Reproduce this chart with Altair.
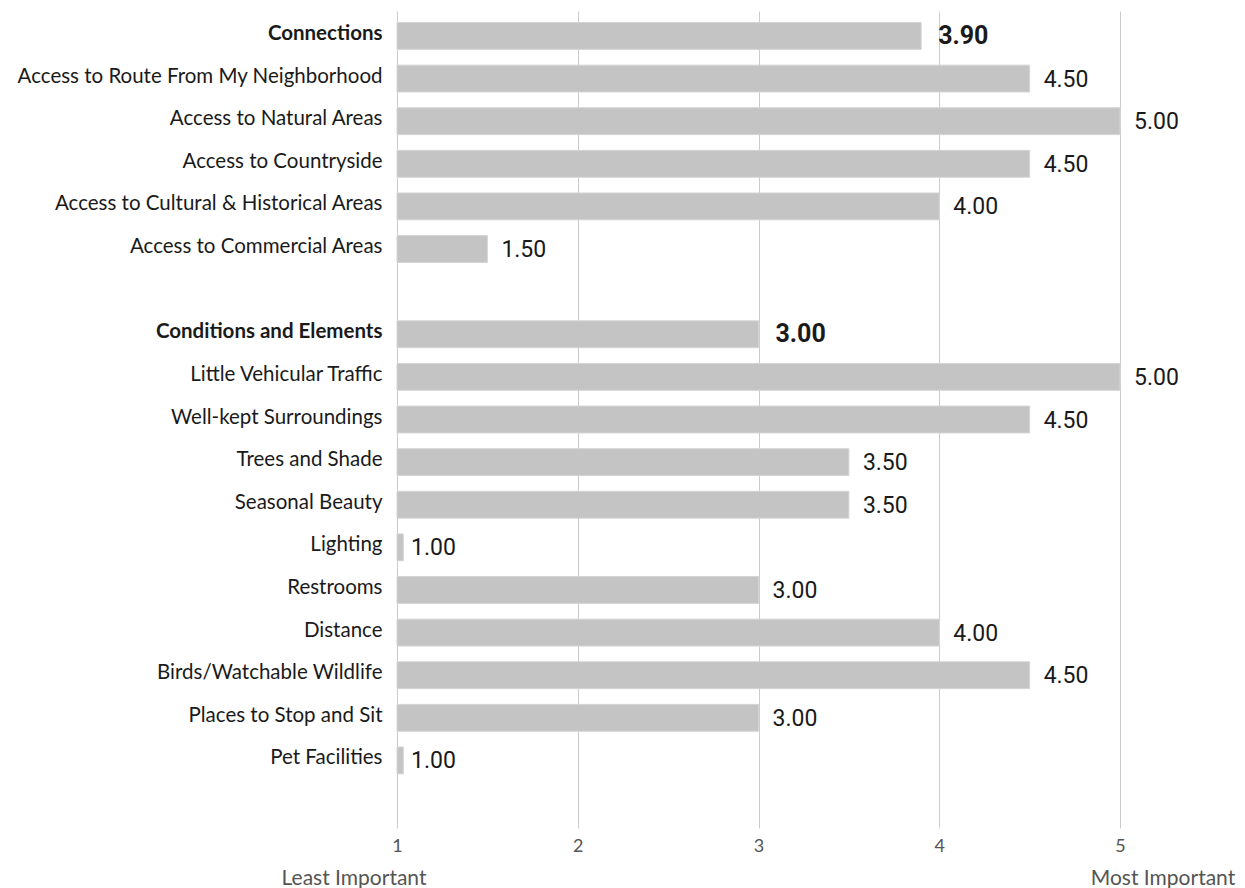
import altair as alt
import pandas as pd

categories = [
    "Connections",
    "Access to Route From My Neighborhood",
    "Access to Natural Areas",
    "Access to Countryside",
    "Access to Cultural & Historical Areas",
    "Access to Commercial Areas",
    " ",
    "Conditions and Elements",
    "Little Vehicular Traffic",
    "Well-kept Surroundings",
    "Trees and Shade",
    "Seasonal Beauty",
    "Lighting",
    "Restrooms",
    "Distance",
    "Birds/Watchable Wildlife",
    "Places to Stop and Sit",
    "Pet Facilities",
    "  ",
]
values = [3.90, 4.50, 5.00, 4.50, 4.00, 1.50, None,
          3.00, 5.00, 4.50, 3.50, 3.50, 1.00, 3.00, 4.00, 4.50, 3.00, 1.00, None]
headers = ["Connections", "Conditions and Elements"]
x_ticks = [1, 2, 3, 4, 5]
end_labels = ["Least Important", "Most Important"]

df = pd.DataFrame({"cat": categories, "value": values})
df["header"] = df["cat"].isin(headers)
df = df.dropna(subset=["value"])

FONT = "Lato"
W, H = 723, 817

y_enc = alt.Y(
    "cat:N",
    sort=categories,
    scale=alt.Scale(domain=categories, paddingInner=0.37, paddingOuter=0.27),
    axis=alt.Axis(
        title=None, ticks=False, domain=False, grid=False,
        labelFont=FONT, labelFontSize=20.5, labelColor="#1a1a1a",
        labelPadding=15, labelLimit=420, labelOffset=-2,
        labelFontWeight=alt.expr(
            "datum.value == 'Connections' || datum.value == 'Conditions and Elements' ? 'bold' : 'normal'"
        ),
    ),
)
y_plain = alt.Y("cat:N", sort=categories, scale=alt.Scale(domain=categories))

x_scale = alt.Scale(domain=[1, 5], nice=False, zero=False)

base = alt.Chart(df)

bars = base.transform_calculate(
    shown="max(datum.value, 1.035)"
).mark_bar(color="#c4c4c4", stroke="#d4d4d4", strokeWidth=1).encode(
    x=alt.X(
        "shown:Q", scale=x_scale,
        axis=alt.Axis(
            values=x_ticks, title=None, domain=False, ticks=False,
            grid=True, gridColor="#cccccc", gridWidth=1,
            labelFont=FONT, labelFontSize=18, labelColor="#555555",
            labelPadding=9, labelFlush=False, format="d",
        ),
    ),
    x2=alt.datum(1),
    y=y_enc,
)

labels = base.transform_filter("!datum.header").mark_text(
    align="left", baseline="alphabetic", dx=14, dy=8, font="Roboto", fontSize=23, color="#1a1a1a"
).encode(
    x=alt.X("value:Q", scale=x_scale),
    y=y_plain,
    text=alt.Text("value:Q", format=".2f"),
)
head_labels = base.transform_filter("datum.header").mark_text(
    align="left", baseline="alphabetic", dx=17, dy=8, font="Roboto", fontSize=25,
    fontWeight="bold", color="#1a1a1a"
).encode(
    x=alt.X("value:Q", scale=x_scale),
    y=y_plain,
    text=alt.Text("value:Q", format=".2f"),
)

ends_df = pd.DataFrame({"label": end_labels, "pos": [1, 5]})
ends_left = alt.Chart(ends_df).transform_filter("datum.pos == 1").mark_text(
    align="center", baseline="alphabetic", dx=-43, font=FONT, fontSize=21, color="#555555"
).encode(x=alt.X("pos:Q", scale=x_scale), y=alt.value(H + 57), text="label:N")
ends_right = alt.Chart(ends_df).transform_filter("datum.pos == 5").mark_text(
    align="center", baseline="alphabetic", dx=43, font=FONT, fontSize=21, color="#555555"
).encode(x=alt.X("pos:Q", scale=x_scale), y=alt.value(H + 57), text="label:N")

chart = alt.layer(bars, labels, head_labels, ends_left, ends_right).properties(
    width=W, height=H,
    background="white",
    autosize=alt.AutoSizeParams(type="none"),
    padding={"left": 397, "top": 11, "right": 125, "bottom": 60},
).configure_view(
    strokeWidth=0, strokeOpacity=0
).configure_axisY(grid=False, domain=False).configure_axisX(domain=False)

chart.save("out.html", embed_options={"renderer": "svg", "actions": False})
